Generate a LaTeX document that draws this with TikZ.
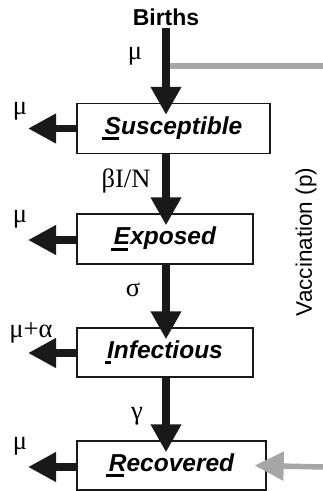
\documentclass[tikz,border=0pt]{standalone}
\usepackage{fontspec}
\setmainfont{Liberation Sans}
\newfontfamily\grk{Liberation Serif}
\usetikzlibrary{arrows.meta}
\newcommand\ulfirst[1]{\setbox0\hbox{#1}\rlap{\kern-2.5pt\rule[-6pt]{\wd0}{3pt}}\box0}
\begin{document}
\begin{tikzpicture}[x=1pt,y=-1pt,
  box/.style={draw=black!90,line width=1.4pt,fill=white,minimum height=50pt,inner sep=0pt,
    font=\fontsize{24.5}{28}\selectfont\bfseries\itshape},
  flow/.style={line width=7.5pt,-{Triangle[length=28pt,width=29pt]},black!90},
  outflow/.style={line width=7.5pt,-{Triangle[length=28pt,width=28pt]},black!90},
  vacc/.style={line width=5.5pt,color=black!35},
  lab/.style={font=\grk\fontsize{26.5}{30}\selectfont,inner sep=0pt}]
\useasboundingbox (0,0) rectangle (323,491);
\node[font=\fontsize{23}{26}\selectfont\bfseries,inner sep=0pt,anchor=base] (B) at (166,25) {Births};
\node[box,minimum width=193pt] (S) at (173.5,128.5) {\ulfirst{S}usceptible};
\node[box,minimum width=176pt] (E) at (165,239) {\ulfirst{E}xposed};
\node[box,minimum width=176pt,minimum height=49pt] (I) at (165,352.5) {\ulfirst{I}nfectious};
\node[box,minimum width=189pt,minimum height=49pt] (R) at (171.5,465.5) {\ulfirst{R}ecovered};
% vaccination
\coordinate (vb) at (166,66);
\coordinate (ve) at (324,66);
\draw[vacc] (vb) -- (ve);
\coordinate (vr) at (324,467);
\draw[vacc,-{Triangle[length=29pt,width=28pt]}] (vr) -- ([xshift=-12pt]R.east);
\node[font=\fontsize{22.5}{26}\selectfont,rotate=90,inner sep=0pt] (V) at (306,242) {Vaccination (p)};
% main flow
\draw[flow] ([yshift=-3pt]B.south) -- ([yshift=-12pt]S.north -| B);
\draw[flow] (S.south -| B) -- ([yshift=-12pt]E.north -| B);
\draw[flow] (E.south -| B) -- ([yshift=-12pt]I.north -| B);
\draw[flow] (I.south -| B) -- ([yshift=-12pt]R.north -| B);
% outflows
\coordinate (so) at (28,128.5);
\coordinate (eo) at (28,240);
\coordinate (io) at (28,353);
\coordinate (ro) at (28,467);
\draw[outflow] (S.west) -- (so);
\draw[outflow] (S.west |- eo) -- (eo);
\draw[outflow] (I.west |- io) -- (io);
\draw[outflow] (R.west |- ro) -- (ro);
% labels
\node[lab] (l1) at (135,56) {μ};
\node[lab] (l2) at (20,111) {μ};
\node[lab] (l3) at (126,181) {βI/N};
\node[lab] (l4) at (20,219) {μ};
\node[lab] (l5) at (133,290) {σ};
\node[lab] (l6) at (31,333) {μ+α};
\node[lab] (l7) at (137,416) {γ};
\node[lab] (l8) at (20,446) {μ};
\end{tikzpicture}
\end{document}
